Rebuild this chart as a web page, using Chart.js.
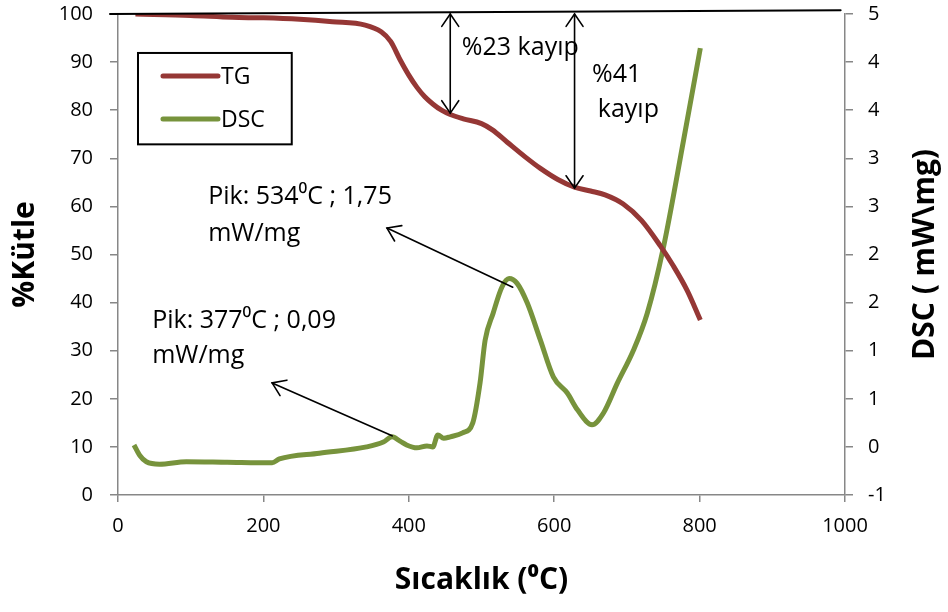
<!DOCTYPE html>
<html>
<head>
<meta charset="utf-8">
<script src="https://cdn.jsdelivr.net/npm/chart.js@4/dist/chart.umd.min.js"></script>
<style>
  html, body { margin: 0; padding: 0; background: #fff; }
</style>
</head>
<body>
<canvas id="grafikTGDSC" width="948" height="612"></canvas>
<script>
// TG egrisi (%Kütle)
const tgSicaklik = [24, 100, 157, 200, 250, 295, 340, 362, 375, 388, 400, 411, 422, 433, 445, 457, 475, 500, 515, 535, 560, 581, 605, 628, 650, 670, 695, 720, 746, 764, 783, 801];
const tgKutle = [100, 99.7, 99.3, 99.2, 98.9, 98.4, 97.7, 96.3, 94.3, 90.5, 87.3, 84.8, 82.8, 81.3, 80.0, 79.1, 78.2, 77.2, 75.9, 73.4, 70.3, 67.9, 65.6, 64.0, 63.2, 62.4, 60.5, 57.1, 51.8, 47.6, 42.5, 36.4];

// DSC egrisi (mW/mg)
const dscSicaklik = [22, 30, 39, 57, 94, 150, 212, 222, 277, 342, 365, 377, 388, 397, 411, 425, 433, 440, 448, 457, 474, 488, 498, 505, 516, 528, 538, 549, 563, 581, 599, 618, 632, 652, 668, 687, 709, 728, 750, 778, 801];
const dscDeger = [0.02, -0.09, -0.155, -0.18, -0.155, -0.16, -0.165, -0.125, -0.065, 0.0, 0.05, 0.105, 0.06, 0.02, -0.01, 0.01, 0.0, 0.125, 0.09, 0.105, 0.145, 0.25, 0.665, 1.11, 1.39, 1.66, 1.75, 1.70, 1.495, 1.11, 0.725, 0.56, 0.385, 0.23, 0.355, 0.665, 1.005, 1.39, 2.065, 3.19, 4.145];

// eksen etiketleri
const altEtiketler = ['0', '200', '400', '600', '800', '1000'];
const sagEtiketler = ['-1', '0', '1', '1', '2', '2', '3', '3', '4', '4', '5'];

// ust referans cizgisi ve oklar
const refX = [-11, 994];
const refY = [100, 100.8];
const dikeyOkX = [457, 628];
const dikeyOkAlt = [79.4, 63.8];
const capraz = [
  { bas: [543, 43.2], uc: [370, 55.5] },
  { bas: [377, 12.3], uc: [212, 23.3] }
];
const notlar = [
  { t: '%23 kayıp', x: 473, y: 91.5 },
  { t: '%41', x: 652, y: 85.9 },
  { t: 'kayıp', x: 660, y: 78.6 },
  { t: 'Pik: 534⁰C ; 1,75', x: 124, y: 60.5 },
  { t: 'mW/mg', x: 124, y: 52.8 },
  { t: 'Pik: 377⁰C ; 0,09', x: 47, y: 34.7 },
  { t: 'mW/mg', x: 47, y: 27.4 }
];

const FONT = '"Open Sans", "Noto Sans", "DejaVu Sans", sans-serif';
const GRI = '#878787';

function ok(ctx, x1, y1, x2, y2) {
  const a = Math.atan2(y2 - y1, x2 - x1);
  const L = 15, w = 0.6;
  ctx.beginPath();
  ctx.moveTo(x2 - L * Math.cos(a - w), y2 - L * Math.sin(a - w));
  ctx.lineTo(x2, y2);
  ctx.lineTo(x2 - L * Math.cos(a + w), y2 - L * Math.sin(a + w));
  ctx.stroke();
}

// eksen kutularini sabitle
function dikeySabitle(s, genislik) {
  s.width = genislik;
  s.paddingTop = 14;
  s.paddingBottom = 0;
}

const eklentiNotlar = {
  id: 'notlar',
  afterDatasetsDraw(chart) {
    const { ctx, chartArea, scales: { x, y } } = chart;
    ctx.save();
    ctx.strokeStyle = '#000';
    ctx.lineCap = 'round';

    // ust cizgi
    ctx.lineWidth = 2;
    ctx.beginPath();
    ctx.moveTo(x.getPixelForValue(refX[0]), y.getPixelForValue(refY[0]));
    ctx.lineTo(x.getPixelForValue(refX[1]), y.getPixelForValue(refY[1]));
    ctx.stroke();

    // dikey cift yonlu oklar
    ctx.lineWidth = 1.6;
    dikeyOkX.forEach((v, i) => {
      const px = x.getPixelForValue(v);
      const ust = y.getPixelForValue(100);
      const alt = y.getPixelForValue(dikeyOkAlt[i]);
      ctx.beginPath();
      ctx.moveTo(px, ust);
      ctx.lineTo(px, alt);
      ctx.stroke();
      ok(ctx, px, alt, px, ust);
      ok(ctx, px, ust, px, alt);
    });

    // capraz oklar
    capraz.forEach(c => {
      const x1 = x.getPixelForValue(c.bas[0]), y1 = y.getPixelForValue(c.bas[1]);
      const x2 = x.getPixelForValue(c.uc[0]), y2 = y.getPixelForValue(c.uc[1]);
      ctx.beginPath();
      ctx.moveTo(x1, y1);
      ctx.lineTo(x2, y2);
      ctx.stroke();
      ok(ctx, x1, y1, x2, y2);
    });

    // yazilar
    ctx.fillStyle = '#000';
    ctx.font = '25px ' + FONT;
    ctx.textBaseline = 'alphabetic';
    ctx.textAlign = 'left';
    notlar.forEach(n => {
      ctx.fillText(n.t, x.getPixelForValue(n.x), y.getPixelForValue(n.y));
    });

    // lejant
    const kx = x.getPixelForValue(27.5), ky = y.getPixelForValue(91.9);
    const kx2 = x.getPixelForValue(239), ky2 = y.getPixelForValue(72.9);
    ctx.lineWidth = 2;
    ctx.strokeRect(kx, ky, kx2 - kx, ky2 - ky);
    const satirY = [ky + 23, ky + 66];
    [0, 1].forEach(i => {
      const ds = chart.data.datasets[i];
      ctx.strokeStyle = ds.borderColor;
      ctx.lineWidth = 5;
      ctx.beginPath();
      ctx.moveTo(kx + 25, satirY[i]);
      ctx.lineTo(kx + 80, satirY[i]);
      ctx.stroke();
      ctx.fillStyle = '#000';
      ctx.font = '23px ' + FONT;
      ctx.textBaseline = 'middle';
      ctx.fillText(ds.label, kx + 83, satirY[i] + 1);
    });

    // sag eksen basligi (asagidan yukari okunur)
    ctx.save();
    ctx.translate(925, (chartArea.top + chartArea.bottom) / 2);
    ctx.rotate(-Math.PI / 2);
    ctx.font = 'bold 30px ' + FONT;
    ctx.textAlign = 'center';
    ctx.textBaseline = 'middle';
    ctx.fillStyle = '#000';
    ctx.fillText('DSC ( mW\\mg)', 0, 0);
    ctx.restore();

    ctx.restore();
  }
};

const ctx = document.getElementById('grafikTGDSC').getContext('2d');

new Chart(ctx, {
  type: 'line',
  data: {
    datasets: [
      {
        label: 'TG',
        data: tgSicaklik.map((t, i) => ({ x: t, y: tgKutle[i] })),
        borderColor: '#953735',
        borderWidth: 5,
        pointRadius: 0,
        cubicInterpolationMode: 'monotone',
        yAxisID: 'y'
      },
      {
        label: 'DSC',
        data: dscSicaklik.map((t, i) => ({ x: t, y: dscDeger[i] })),
        borderColor: '#77933C',
        borderWidth: 5,
        pointRadius: 0,
        cubicInterpolationMode: 'monotone',
        yAxisID: 'y1'
      }
    ]
  },
  options: {
    responsive: false,
    animation: false,
    layout: { padding: 0 },
    plugins: {
      legend: { display: false },
      tooltip: { enabled: false }
    },
    scales: {
      x: {
        type: 'linear',
        min: 0,
        max: 1000,
        ticks: {
          stepSize: 200,
          color: '#000',
          padding: 12,
          font: { family: FONT, size: 20 },
          callback: (v, i) => altEtiketler[i]
        },
        grid: { drawOnChartArea: false, tickLength: 7, color: GRI, lineWidth: 1.5 },
        border: { color: GRI, width: 1.5 },
        title: {
          display: true,
          text: 'Sıcaklık (⁰C)',
          color: '#000',
          font: { family: FONT, size: 30, weight: 'bold' },
          padding: { top: 0, bottom: 14 }
        },
        afterFit: s => { s.height = 117; s.paddingLeft = 0; s.paddingRight = 0; }
      },
      y: {
        position: 'left',
        min: 0,
        max: 100,
        ticks: { stepSize: 10, color: '#000', padding: 17, font: { family: FONT, size: 20 } },
        grid: { drawOnChartArea: false, tickLength: 8, color: GRI, lineWidth: 1.5 },
        border: { color: GRI, width: 1.5 },
        title: {
          display: true,
          text: '%Kütle',
          color: '#000',
          font: { family: FONT, size: 30, weight: 'bold' },
          padding: { top: 7, bottom: 0 }
        },
        afterFit: s => dikeySabitle(s, 118)
      },
      y1: {
        position: 'right',
        min: -0.5,
        max: 4.5,
        ticks: {
          stepSize: 0.5,
          color: '#000',
          padding: 15,
          font: { family: FONT, size: 20 },
          callback: (v, i) => sagEtiketler[i]
        },
        grid: { drawOnChartArea: false, tickLength: 8, color: GRI, lineWidth: 1.5 },
        border: { color: GRI, width: 1.5 },
        title: { display: false },
        afterFit: s => dikeySabitle(s, 103)
      }
    }
  },
  plugins: [eklentiNotlar]
});
</script>
</body>
</html>
